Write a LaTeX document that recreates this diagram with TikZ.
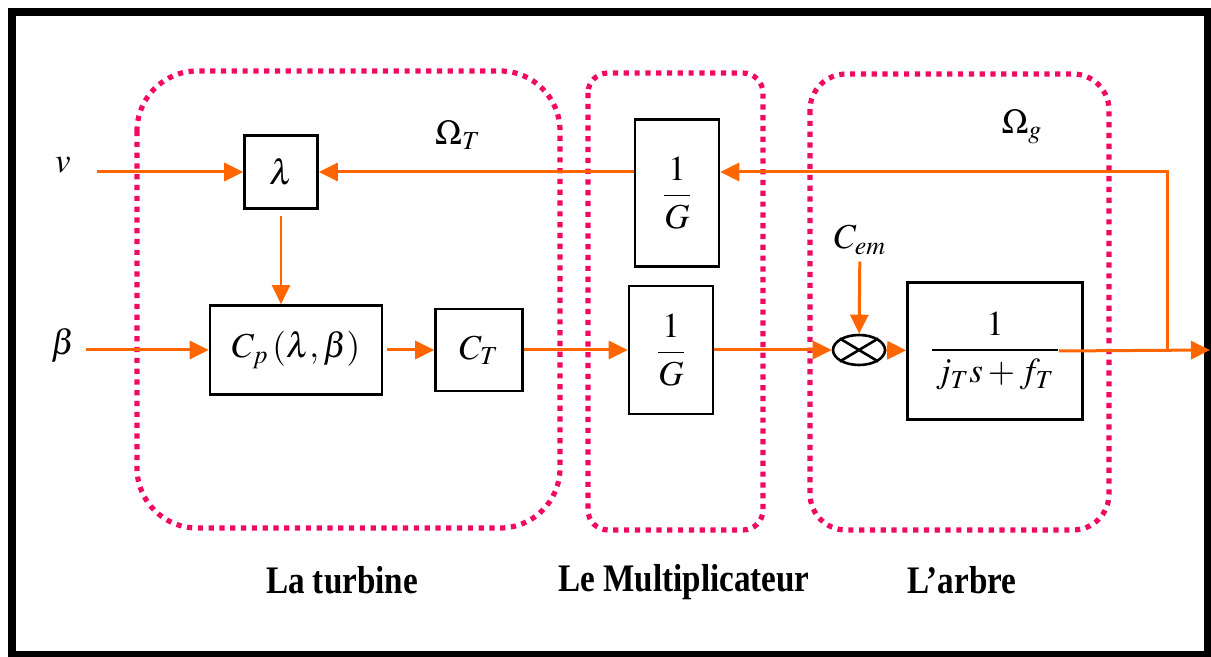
\documentclass[tikz,border=0pt]{standalone}
\usepackage{amsmath}
\usepackage{mathptmx}
\usepackage{fontspec}
\setmainfont{Liberation Serif}
\usepackage{tikz}
\usetikzlibrary{arrows.meta,shapes.geometric}
\definecolor{sigorange}{RGB}{255,102,0}
\definecolor{grppink}{RGB}{240,10,100}

\begin{document}
\begin{tikzpicture}[x=0.5pt,y=-0.5pt,
    blk/.style={draw,line width=1.3pt,inner sep=0pt,font=\fontsize{17.5}{20}\selectfont},
    sig/.style={draw=sigorange,line width=1.5pt,-{Triangle[length=9.5pt,width=9pt]}},
    grp/.style={draw=grppink,line width=2.6pt,dash pattern=on 2.6pt off 2.8pt},
    lbl/.style={font=\fontsize{17.5}{20}\selectfont},
    titre/.style={font=\fontsize{19.5}{22}\selectfont\bfseries}]
    \useasboundingbox (0,0) rectangle (1211,657);
    \draw[line width=4pt] (12,12.5) rectangle (1208,655);
    % regroupements
    \draw[grp,rounded corners=30pt] (137,71) rectangle (560,528);
    \draw[grp,rounded corners=10pt] (588,73) rectangle (763,530);
    \draw[grp,rounded corners=18pt] (810,74) rectangle (1109,530);
    % blocs
    \node[blk,minimum width=36.5pt,minimum height=36.5pt] (lam) at (281,172) {$\lambda$};
    \node[blk,minimum width=86pt,minimum height=44.5pt] (cp) at (296,350) {$C_p\left(\lambda,\beta\right)$};
    \node[blk,minimum width=43.5pt,minimum height=41pt] (ct) at (479,350) {$C_T$};
    \node[blk,minimum width=42pt,minimum height=73.5pt] (gfb) at (677,193) {$\dfrac{1}{G}$};
    \node[blk,minimum width=42pt,minimum height=64pt] (gmul) at (671,350) {$\dfrac{1}{G}$};
    \node[draw,ellipse,line width=1.3pt,minimum width=26pt,minimum height=15pt,inner sep=0pt] (sum) at (859,350) {};
    \draw[line width=1.3pt] (sum.north west) -- (sum.south east) (sum.north east) -- (sum.south west);
    \node[blk,minimum width=87.5pt,minimum height=68.5pt] (arbre) at (995,351) {$\dfrac{1}{\,j_T s+f_T\,}$};
    % entrees, sorties
    \node[lbl] (v) at (63,165) {$v$};
    \node[lbl] (beta) at (63,345) {$\beta$};
    \node[lbl] (cem) at (860,240) {$C_{em}$};
    \node[lbl] (omt) at (458,135) {$\Omega_T$};
    \node[lbl] (omg) at (1022,127) {$\Omega_g$};
    \coordinate (vin) at (97,172);
    \coordinate (bin) at (86,350);
    \coordinate (br) at (1167,350);
    \coordinate (out) at (1210,350);
    % liaisons
    \draw[sig] (vin) -- (lam);
    \draw[sig] (bin) -- (cp);
    \draw[sig,line width=1.1pt,shorten <=3pt] (lam.south) -- (lam.south |- cp.north);
    \draw[sig,shorten <=2pt] (cp) -- (ct);
    \draw[sig] (ct) -- (gmul);
    \draw[sig] (gmul) -- (sum);
    \draw[sig] (cem) -- (sum);
    \draw[sig] (sum) -- (arbre);
    \draw[sig] ([xshift=-12.5pt]arbre.east) -- (out);
    \draw[sig] (br) |- (gfb.east |- lam.east);
    \draw[sig] (gfb.west |- lam.east) -- (lam);
    % titres
    \node[titre] (t1) at (342,580) {\scalebox{0.85}[1]{La turbine}};
    \node[titre] (t2) at (684,582) {\scalebox{0.85}[1]{Le Multiplicateur}};
    \node[titre] (t3) at (962,580) {\scalebox{0.85}[1]{L’arbre}};
\end{tikzpicture}
\end{document}
